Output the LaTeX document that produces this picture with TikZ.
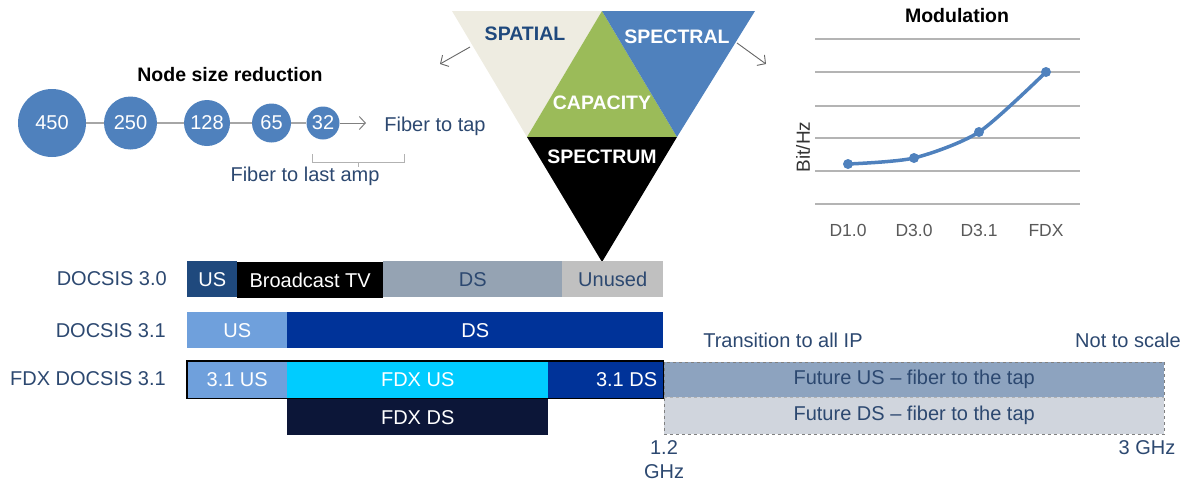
\documentclass[tikz,border=0pt]{standalone}
\usepackage{fontspec}
\setmainfont{Liberation Sans}
\usetikzlibrary{arrows.meta}
\definecolor{txtblue}{RGB}{44,72,112}
\definecolor{cblue}{RGB}{79,129,189}
\definecolor{navy}{RGB}{31,73,125}
\definecolor{dsgray}{RGB}{149,163,179}
\definecolor{unused}{RGB}{192,192,192}
\definecolor{lblue}{RGB}{111,160,220}
\definecolor{dblue}{RGB}{0,51,153}
\definecolor{cyanb}{RGB}{0,204,255}
\definecolor{fdxds}{RGB}{12,22,56}
\definecolor{futus}{RGB}{141,163,191}
\definecolor{futds}{RGB}{208,213,221}
\definecolor{beige}{RGB}{238,236,225}
\definecolor{tgreen}{RGB}{155,187,89}
\definecolor{gridg}{RGB}{180,180,180}
\definecolor{axisg}{RGB}{89,89,89}
\tikzset{
  txt/.style={font=\fontsize{20}{23}\selectfont, inner sep=0pt},
  btxt/.style={font=\fontsize{19.5}{22}\selectfont\bfseries, inner sep=0pt},
  bub/.style={circle, fill=cblue, minimum size=#1, inner sep=0pt, text=white, font=\fontsize{20}{23}\selectfont},
  seg/.style={rectangle, anchor=north west, inner sep=0pt, minimum height=#1, font=\fontsize{20}{23}\selectfont},
  conn/.style={draw=gray!70, line width=1.6pt},
  barb/.style={-{Straight Barb[length=6pt,width=13pt]}},
}
\begin{document}
\begin{tikzpicture}[x=1pt,y=-1pt]
\useasboundingbox (0,0) rectangle (1188,483);

% ---------- Node size reduction ----------
\node[btxt] (title1) at (230,75) {Node size reduction};
\node[bub=68pt] (c1) at (52,123) {450};
\node[bub=53pt] (c2) at (130.5,123) {250};
\node[bub=46pt] (c3) at (207,123) {128};
\node[bub=39pt] (c4) at (271.5,123) {65};
\node[bub=33pt] (c5) at (323,123) {32};
\coordinate (tapend) at (366,123);
\draw[conn] (c1) -- (c2) -- (c3) -- (c4) -- (c5);
\draw[conn, draw=gray, line width=1pt, barb] (c5) -- (tapend);
\node[txt, text=txtblue] (fibtap) at (435,126) {Fiber to tap};
\coordinate (bl) at (312,154);
\coordinate (br) at (404,154);
\coordinate (bm) at (358,162);
\draw[gray!60, line width=1pt] (bl) -- ++(0,8) -- ++(92,0) -- (br);
\draw[gray!60, line width=1pt] (bm) -- ++(0,5);
\node[txt, text=txtblue] (fiblast) at (305,176) {Fiber to last amp};

% ---------- Triangle ----------
\coordinate (tl) at (452,11);
\coordinate (tm) at (602,11);
\coordinate (tr) at (755,11);
\coordinate (ml) at (527,137);
\coordinate (mr) at (677,137);
\coordinate (bt) at (602,262);
\fill[beige] (tl) -- (tm) -- (ml) -- cycle;
\fill[tgreen] (tm) -- (mr) -- (ml) -- cycle;
\fill[cblue] (tm) -- (tr) -- (mr) -- cycle;
\fill[black] (ml) -- (mr) -- (bt) -- cycle;
\node[btxt, text=navy] (spatial) at (525,34) {SPATIAL};
\node[btxt, text=white] (spectral) at (677,37) {SPECTRAL};
\node[btxt, text=white] (capacity) at (602,103) {CAPACITY};
\node[btxt, text=white] (spectrum) at (602,157) {SPECTRUM};
\coordinate (la0) at (470,47);
\coordinate (la1) at (440,64);
\coordinate (ra0) at (737,43);
\coordinate (ra1) at (766,64);
\draw[gray!80!black, line width=0.9pt, barb] (la0) -- (la1);
\draw[gray!80!black, line width=0.9pt, barb] (ra0) -- (ra1);

% ---------- Modulation chart ----------
\node[btxt] (modt) at (957,16) {Modulation};
\foreach \yy [count=\i] in {39,72,106,138,171,204}{
  \coordinate (gl\i) at (815,\yy);
  \coordinate (gr\i) at (1080,\yy);
  \draw[gridg, line width=2.2pt] (gl\i) -- (gr\i);
}
\coordinate (p1) at (848,164);
\coordinate (p2) at (914,158);
\coordinate (p3) at (979,132);
\coordinate (p4) at (1046,72);
\draw[cblue, line width=3.5pt, line join=round] plot[smooth, tension=0.45] coordinates {(p1) (p2) (p3) (p4)};
\foreach \p in {p1,p2,p3,p4}{\fill[cblue] (\p) circle (5pt);}
\node[txt, text=axisg, font=\fontsize{17.5}{20}\selectfont] (xl1) at (848,230) {D1.0};
\node[txt, text=axisg, font=\fontsize{17.5}{20}\selectfont] (xl2) at (914,230) {D3.0};
\node[txt, text=axisg, font=\fontsize{17.5}{20}\selectfont] (xl3) at (979,230) {D3.1};
\node[txt, text=axisg, font=\fontsize{17.5}{20}\selectfont] (xl4) at (1046,230) {FDX};
\node[txt, text=black!80, rotate=90, font=\fontsize{19}{20}\selectfont] (yl) at (803,147) {Bit/Hz};

% ---------- Spectrum bars ----------
\node[txt, text=txtblue, anchor=east] (l30) at (167,279) {DOCSIS 3.0};
\node[txt, text=txtblue, anchor=east] (l31) at (166,331) {DOCSIS 3.1};
\node[txt, text=txtblue, anchor=east] (lfdx) at (166,379) {FDX DOCSIS 3.1};

\node[seg=36pt, fill=navy, text=white, minimum width=50pt] (us30) at (187,261) {US};
\node[seg=36pt, fill=black, text=white, minimum width=146pt] (btv) at (237,262) {Broadcast TV};
\node[seg=36pt, fill=dsgray, text=txtblue, minimum width=179pt] (ds30) at (383,261) {DS};
\node[seg=36pt, fill=unused, text=txtblue, minimum width=101pt] (un30) at (562,261) {Unused};

\node[seg=36pt, fill=lblue, text=white, minimum width=100pt] (us31) at (187,312) {US};
\node[seg=36pt, fill=dblue, text=white, minimum width=376pt] (ds31) at (287,312) {DS};

\node[seg=37pt, fill=lblue, text=white, minimum width=100pt] (us31f) at (187,361) {3.1 US};
\node[seg=37pt, fill=cyanb, text=white, minimum width=261pt] (fdxus) at (287,361) {FDX US};
\node[seg=37pt, fill=dblue, minimum width=115pt] (ds31f) at (548,361) {};
\node[txt, text=white, anchor=east] (ds31ft) at ([xshift=-6pt]ds31f.east) {3.1 DS};
\draw[black, line width=1.2pt] (us31f.north west) rectangle (ds31f.south east);
\node[seg=36pt, fill=fdxds, text=white, minimum width=261pt] (fdxdsn) at (287,399) {FDX DS};

\node[seg=35pt, fill=futus, text=txtblue, minimum width=500pt] (fus) at (664,362) {Future US – fiber to the tap};
\node[seg=37pt, fill=futds, text=txtblue, minimum width=500pt] (fds) at (664,397) {Future DS – fiber to the tap};
\draw[gray, dashed, line width=0.8pt] (fus.north west) rectangle (fds.south east);
\draw[gray!60, dashed, line width=0.6pt] (fus.south west) -- (fus.south east);

\node[txt, text=txtblue] (trans) at (783,340) {Transition to all IP};
\node[txt, text=txtblue] (nts) at (1128,340) {Not to scale};
\node[txt, text=txtblue] (g12) at (664,448) {1.2};
\node[txt, text=txtblue] (ghz) at (664,472) {GHz};
\node[txt, text=txtblue] (g3) at (1147,448) {3 GHz};
\end{tikzpicture}
\end{document}
